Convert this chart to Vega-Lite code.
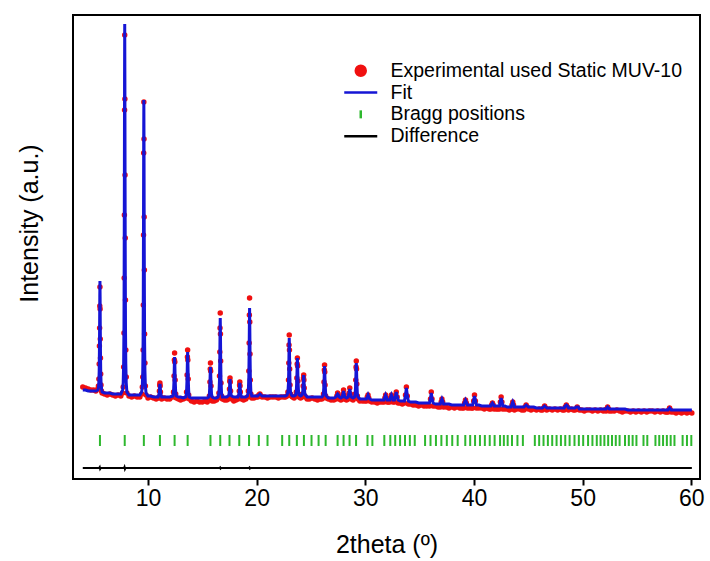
{
"$schema": "https://vega.github.io/schema/vega-lite/v6.json",
"width": 627, "height": 464,
"autosize": "none",
"padding": {"left": 73, "top": 15, "right": 10, "bottom": 82},
"background": "white",
"datasets": {
"pattern": [
{"t":4.0,"obs":92,"calc":89},{"t":4.25,"obs":91,"calc":89},{"t":4.5,"obs":90,"calc":88},{"t":4.75,"obs":89,"calc":88},{"t":5.0,"obs":89,"calc":88},{"t":5.2,"obs":88,"calc":88},
{"t":5.38,"obs":90,"calc":89},{"t":5.44,"obs":93,"calc":91},{"t":5.48,"obs":100,"calc":97},{"t":5.51,"obs":115,"calc":108},{"t":5.53,"obs":133,"calc":127},{"t":5.55,"obs":151,"calc":154},{"t":5.565,"obs":173,"calc":182},{"t":5.58,"obs":192,"calc":198},{"t":5.595,"obs":170,"calc":182},{"t":5.61,"obs":140,"calc":154},{"t":5.63,"obs":121,"calc":127},{"t":5.65,"obs":105,"calc":108},{"t":5.68,"obs":94,"calc":97},{"t":5.72,"obs":88,"calc":91},{"t":5.78,"obs":86,"calc":87},
{"t":6.0,"obs":85,"calc":86},{"t":6.25,"obs":84,"calc":86},{"t":6.5,"obs":85,"calc":86},{"t":6.75,"obs":84,"calc":85},{"t":7.0,"obs":83,"calc":85},{"t":7.25,"obs":84,"calc":85},{"t":7.5,"obs":83,"calc":85},
{"t":7.66,"obs":86,"calc":89},{"t":7.72,"obs":92,"calc":96},{"t":7.76,"obs":112,"calc":115},{"t":7.79,"obs":146,"calc":152},{"t":7.81,"obs":201,"calc":215},{"t":7.83,"obs":264,"calc":307},{"t":7.845,"obs":369,"calc":400},{"t":7.86,"obs":444,"calc":455},{"t":7.875,"obs":380,"calc":400},{"t":7.89,"obs":304,"calc":307},{"t":7.91,"obs":241,"calc":215},{"t":7.93,"obs":179,"calc":152},{"t":7.96,"obs":129,"calc":115},{"t":8.0,"obs":102,"calc":96},{"t":8.06,"obs":86,"calc":87},
{"t":8.25,"obs":83,"calc":84},{"t":8.5,"obs":82,"calc":84},{"t":8.75,"obs":83,"calc":84},{"t":9.0,"obs":82,"calc":84},{"t":9.25,"obs":82,"calc":84},
{"t":9.42,"obs":85,"calc":87},{"t":9.48,"obs":92,"calc":93},{"t":9.52,"obs":102,"calc":108},{"t":9.55,"obs":129,"calc":137},{"t":9.57,"obs":174,"calc":187},{"t":9.59,"obs":244,"calc":261},{"t":9.605,"obs":326,"calc":335},{"t":9.62,"obs":377,"calc":379},{"t":9.635,"obs":340,"calc":335},{"t":9.65,"obs":262,"calc":261},{"t":9.67,"obs":209,"calc":187},{"t":9.69,"obs":145,"calc":137},{"t":9.72,"obs":116,"calc":108},{"t":9.76,"obs":93,"calc":93},{"t":9.82,"obs":84,"calc":86},
{"t":10.0,"obs":81,"calc":83},{"t":10.25,"obs":82,"calc":83},{"t":10.5,"obs":81,"calc":82},{"t":10.75,"obs":80,"calc":82},
{"t":10.94,"obs":81,"calc":82},{"t":11.0,"obs":82,"calc":84},{"t":11.05,"obs":88,"calc":88},{"t":11.08,"obs":94,"calc":93},{"t":11.1,"obs":96,"calc":95},{"t":11.12,"obs":93,"calc":93},{"t":11.15,"obs":87,"calc":88},{"t":11.2,"obs":82,"calc":84},{"t":11.26,"obs":80,"calc":82},
{"t":11.5,"obs":81,"calc":82},{"t":11.75,"obs":80,"calc":82},{"t":12.0,"obs":80,"calc":82},
{"t":12.29,"obs":82,"calc":83},{"t":12.35,"obs":87,"calc":87},{"t":12.4,"obs":103,"calc":100},{"t":12.43,"obs":119,"calc":116},{"t":12.45,"obs":126,"calc":122},{"t":12.47,"obs":117,"calc":116},{"t":12.5,"obs":99,"calc":100},{"t":12.55,"obs":85,"calc":87},{"t":12.61,"obs":81,"calc":83},
{"t":12.8,"obs":80,"calc":82},{"t":13.0,"obs":79,"calc":82},{"t":13.25,"obs":80,"calc":81},
{"t":13.49,"obs":81,"calc":82},{"t":13.55,"obs":87,"calc":87},{"t":13.6,"obs":104,"calc":102},{"t":13.63,"obs":122,"calc":120},{"t":13.65,"obs":129,"calc":127},{"t":13.67,"obs":119,"calc":120},{"t":13.7,"obs":100,"calc":102},{"t":13.75,"obs":84,"calc":87},{"t":13.81,"obs":80,"calc":82},
{"t":14.0,"obs":78,"calc":81},{"t":14.25,"obs":77,"calc":81},{"t":14.5,"obs":78,"calc":81},{"t":14.75,"obs":77,"calc":81},{"t":15.0,"obs":77,"calc":81},{"t":15.25,"obs":78,"calc":81},{"t":15.45,"obs":77,"calc":81},
{"t":15.59,"obs":79,"calc":82},{"t":15.65,"obs":83,"calc":85},{"t":15.7,"obs":97,"calc":95},{"t":15.73,"obs":110,"calc":107},{"t":15.75,"obs":116,"calc":112},{"t":15.77,"obs":108,"calc":107},{"t":15.8,"obs":93,"calc":95},{"t":15.85,"obs":81,"calc":85},{"t":15.91,"obs":78,"calc":82},
{"t":16.1,"obs":78,"calc":81},{"t":16.3,"obs":79,"calc":81},
{"t":16.45,"obs":81,"calc":82},{"t":16.53,"obs":86,"calc":86},{"t":16.58,"obs":103,"calc":99},{"t":16.61,"obs":127,"calc":121},{"t":16.63,"obs":151,"calc":145},{"t":16.65,"obs":166,"calc":161},{"t":16.67,"obs":145,"calc":145},{"t":16.69,"obs":118,"calc":121},{"t":16.72,"obs":96,"calc":99},{"t":16.77,"obs":83,"calc":86},{"t":16.85,"obs":80,"calc":82},
{"t":17.05,"obs":79,"calc":82},{"t":17.25,"obs":79,"calc":82},
{"t":17.39,"obs":80,"calc":83},{"t":17.45,"obs":82,"calc":84},{"t":17.5,"obs":90,"calc":90},{"t":17.53,"obs":98,"calc":97},{"t":17.55,"obs":101,"calc":100},{"t":17.57,"obs":97,"calc":97},{"t":17.6,"obs":88,"calc":90},{"t":17.65,"obs":81,"calc":84},{"t":17.71,"obs":80,"calc":83},
{"t":17.9,"obs":78,"calc":82},{"t":18.1,"obs":79,"calc":82},
{"t":18.29,"obs":80,"calc":82},{"t":18.35,"obs":82,"calc":84},{"t":18.4,"obs":88,"calc":88},{"t":18.43,"obs":94,"calc":94},{"t":18.45,"obs":97,"calc":96},{"t":18.47,"obs":93,"calc":94},{"t":18.5,"obs":87,"calc":88},{"t":18.55,"obs":81,"calc":84},{"t":18.61,"obs":80,"calc":82},
{"t":18.8,"obs":79,"calc":82},{"t":19.0,"obs":80,"calc":82},
{"t":19.15,"obs":82,"calc":83},{"t":19.23,"obs":88,"calc":87},{"t":19.28,"obs":108,"calc":102},{"t":19.31,"obs":136,"calc":127},{"t":19.33,"obs":164,"calc":153},{"t":19.35,"obs":181,"calc":171},{"t":19.37,"obs":157,"calc":153},{"t":19.39,"obs":125,"calc":127},{"t":19.42,"obs":99,"calc":102},{"t":19.47,"obs":85,"calc":87},{"t":19.55,"obs":81,"calc":83},
{"t":19.75,"obs":81,"calc":83},{"t":19.95,"obs":82,"calc":83},{"t":20.1,"obs":82,"calc":83},{"t":20.2,"obs":84,"calc":84},{"t":20.3,"obs":85,"calc":85},{"t":20.4,"obs":83,"calc":84},{"t":20.5,"obs":82,"calc":83},{"t":20.75,"obs":82,"calc":83},{"t":21.0,"obs":81,"calc":83},{"t":21.25,"obs":82,"calc":83},{"t":21.5,"obs":82,"calc":83},{"t":21.75,"obs":82,"calc":83},{"t":22.0,"obs":81,"calc":83},{"t":22.25,"obs":82,"calc":83},{"t":22.5,"obs":82,"calc":83},{"t":22.65,"obs":82,"calc":83},
{"t":22.8,"obs":83,"calc":84},{"t":22.88,"obs":87,"calc":87},{"t":22.93,"obs":99,"calc":96},{"t":22.96,"obs":116,"calc":112},{"t":22.98,"obs":134,"calc":129},{"t":23.0,"obs":144,"calc":141},{"t":23.02,"obs":129,"calc":129},{"t":23.04,"obs":110,"calc":112},{"t":23.07,"obs":94,"calc":96},{"t":23.12,"obs":85,"calc":87},{"t":23.2,"obs":83,"calc":84},
{"t":23.3,"obs":82,"calc":83},{"t":23.45,"obs":81,"calc":83},
{"t":23.59,"obs":83,"calc":84},{"t":23.65,"obs":87,"calc":88},{"t":23.7,"obs":101,"calc":100},{"t":23.73,"obs":115,"calc":115},{"t":23.75,"obs":121,"calc":121},{"t":23.77,"obs":113,"calc":115},{"t":23.8,"obs":98,"calc":100},{"t":23.85,"obs":85,"calc":88},{"t":23.91,"obs":82,"calc":84},
{"t":24.04,"obs":81,"calc":83},
{"t":24.17,"obs":82,"calc":84},{"t":24.23,"obs":85,"calc":86},{"t":24.28,"obs":93,"calc":93},{"t":24.31,"obs":101,"calc":101},{"t":24.33,"obs":104,"calc":104},{"t":24.35,"obs":99,"calc":101},{"t":24.38,"obs":91,"calc":93},{"t":24.43,"obs":83,"calc":86},{"t":24.49,"obs":82,"calc":84},
{"t":24.65,"obs":80,"calc":82},{"t":24.85,"obs":80,"calc":82},{"t":25.1,"obs":81,"calc":82},{"t":25.35,"obs":80,"calc":82},{"t":25.6,"obs":79,"calc":82},{"t":25.85,"obs":80,"calc":82},{"t":26.0,"obs":80,"calc":82},
{"t":26.09,"obs":81,"calc":83},{"t":26.15,"obs":85,"calc":86},{"t":26.2,"obs":97,"calc":96},{"t":26.23,"obs":109,"calc":108},{"t":26.25,"obs":114,"calc":113},{"t":26.27,"obs":107,"calc":108},{"t":26.3,"obs":94,"calc":96},{"t":26.35,"obs":83,"calc":86},{"t":26.41,"obs":81,"calc":83},
{"t":26.6,"obs":80,"calc":81},{"t":26.85,"obs":79,"calc":81},{"t":27.1,"obs":79,"calc":81},
{"t":27.3,"obs":80,"calc":82},{"t":27.38,"obs":83,"calc":84},{"t":27.45,"obs":86,"calc":85},{"t":27.52,"obs":83,"calc":84},{"t":27.6,"obs":80,"calc":82},{"t":27.75,"obs":79,"calc":81},
{"t":27.88,"obs":80,"calc":82},{"t":27.94,"obs":85,"calc":85},{"t":28.0,"obs":89,"calc":88},{"t":28.06,"obs":84,"calc":85},{"t":28.12,"obs":80,"calc":82},{"t":28.27,"obs":79,"calc":81},
{"t":28.42,"obs":80,"calc":82},{"t":28.5,"obs":86,"calc":86},{"t":28.57,"obs":91,"calc":90},{"t":28.64,"obs":85,"calc":86},{"t":28.72,"obs":80,"calc":82},{"t":28.87,"obs":79,"calc":81},
{"t":29.01,"obs":81,"calc":82},{"t":29.07,"obs":85,"calc":85},{"t":29.12,"obs":99,"calc":97},{"t":29.15,"obs":112,"calc":111},{"t":29.17,"obs":118,"calc":116},{"t":29.19,"obs":110,"calc":111},{"t":29.22,"obs":95,"calc":97},{"t":29.27,"obs":83,"calc":85},{"t":29.33,"obs":80,"calc":82},
{"t":29.5,"obs":78,"calc":80},{"t":29.75,"obs":78,"calc":80},{"t":29.95,"obs":78,"calc":80},
{"t":30.1,"obs":78,"calc":80},{"t":30.18,"obs":82,"calc":82},{"t":30.25,"obs":84,"calc":84},{"t":30.32,"obs":81,"calc":82},{"t":30.4,"obs":78,"calc":80},
{"t":30.6,"obs":77,"calc":79},{"t":30.85,"obs":77,"calc":79},{"t":31.1,"obs":76,"calc":79},{"t":31.35,"obs":77,"calc":79},{"t":31.55,"obs":77,"calc":79},
{"t":31.72,"obs":77,"calc":79},{"t":31.8,"obs":81,"calc":82},{"t":31.87,"obs":84,"calc":84},{"t":31.94,"obs":81,"calc":82},{"t":32.02,"obs":77,"calc":79},{"t":32.12,"obs":77,"calc":79},
{"t":32.25,"obs":77,"calc":79},{"t":32.33,"obs":81,"calc":82},{"t":32.4,"obs":84,"calc":84},{"t":32.47,"obs":81,"calc":82},{"t":32.55,"obs":77,"calc":79},
{"t":32.68,"obs":77,"calc":79},{"t":32.77,"obs":83,"calc":83},{"t":32.85,"obs":87,"calc":87},{"t":32.93,"obs":82,"calc":83},{"t":33.02,"obs":76,"calc":79},
{"t":33.2,"obs":76,"calc":78},{"t":33.4,"obs":75,"calc":78},
{"t":33.6,"obs":76,"calc":78},{"t":33.7,"obs":84,"calc":84},{"t":33.78,"obs":92,"calc":91},{"t":33.86,"obs":83,"calc":84},{"t":33.96,"obs":75,"calc":78},
{"t":34.15,"obs":75,"calc":77},{"t":34.4,"obs":74,"calc":77},{"t":34.65,"obs":74,"calc":77},{"t":34.9,"obs":73,"calc":76},{"t":35.15,"obs":74,"calc":76},{"t":35.4,"obs":73,"calc":76},{"t":35.65,"obs":73,"calc":76},
{"t":35.9,"obs":73,"calc":76},{"t":36.0,"obs":80,"calc":81},{"t":36.07,"obs":87,"calc":86},{"t":36.14,"obs":80,"calc":81},{"t":36.24,"obs":73,"calc":76},
{"t":36.45,"obs":73,"calc":75},{"t":36.7,"obs":72,"calc":75},
{"t":36.9,"obs":72,"calc":75},{"t":36.98,"obs":77,"calc":78},{"t":37.05,"obs":80,"calc":80},{"t":37.12,"obs":77,"calc":78},{"t":37.2,"obs":72,"calc":75},
{"t":37.45,"obs":72,"calc":75},{"t":37.7,"obs":71,"calc":75},{"t":37.95,"obs":72,"calc":74},{"t":38.2,"obs":71,"calc":74},{"t":38.45,"obs":72,"calc":74},{"t":38.7,"obs":71,"calc":74},{"t":38.9,"obs":71,"calc":74},
{"t":39.05,"obs":71,"calc":74},{"t":39.14,"obs":76,"calc":77},{"t":39.22,"obs":79,"calc":79},{"t":39.3,"obs":76,"calc":77},{"t":39.4,"obs":71,"calc":74},
{"t":39.6,"obs":71,"calc":74},{"t":39.8,"obs":71,"calc":74},
{"t":39.88,"obs":71,"calc":74},{"t":39.97,"obs":78,"calc":79},{"t":40.05,"obs":84,"calc":83},{"t":40.13,"obs":78,"calc":79},{"t":40.23,"obs":71,"calc":74},
{"t":40.45,"obs":71,"calc":74},{"t":40.7,"obs":71,"calc":73},{"t":40.95,"obs":70,"calc":73},{"t":41.2,"obs":71,"calc":73},{"t":41.4,"obs":70,"calc":73},
{"t":41.55,"obs":70,"calc":73},{"t":41.63,"obs":74,"calc":75},{"t":41.7,"obs":76,"calc":76},{"t":41.77,"obs":74,"calc":75},{"t":41.85,"obs":70,"calc":73},
{"t":42.05,"obs":70,"calc":73},{"t":42.2,"obs":70,"calc":73},
{"t":42.35,"obs":70,"calc":73},{"t":42.43,"obs":77,"calc":78},{"t":42.5,"obs":82,"calc":81},{"t":42.57,"obs":77,"calc":78},{"t":42.65,"obs":70,"calc":73},
{"t":42.85,"obs":70,"calc":73},{"t":43.05,"obs":70,"calc":72},{"t":43.25,"obs":69,"calc":72},
{"t":43.42,"obs":70,"calc":72},{"t":43.5,"obs":74,"calc":75},{"t":43.57,"obs":77,"calc":77},{"t":43.64,"obs":74,"calc":75},{"t":43.72,"obs":69,"calc":72},
{"t":43.95,"obs":70,"calc":72},{"t":44.2,"obs":70,"calc":72},{"t":44.4,"obs":69,"calc":72},
{"t":44.6,"obs":69,"calc":72},{"t":44.7,"obs":72,"calc":73},{"t":44.8,"obs":74,"calc":74},{"t":44.9,"obs":72,"calc":73},{"t":45.0,"obs":70,"calc":72},
{"t":45.25,"obs":69,"calc":72},{"t":45.5,"obs":70,"calc":72},{"t":45.75,"obs":69,"calc":71},{"t":46.0,"obs":70,"calc":71},{"t":46.15,"obs":69,"calc":71},
{"t":46.3,"obs":69,"calc":71},{"t":46.4,"obs":71,"calc":72},{"t":46.5,"obs":73,"calc":73},{"t":46.6,"obs":71,"calc":72},{"t":46.7,"obs":69,"calc":71},
{"t":46.95,"obs":70,"calc":71},{"t":47.2,"obs":69,"calc":71},{"t":47.45,"obs":70,"calc":71},{"t":47.7,"obs":69,"calc":71},{"t":47.95,"obs":70,"calc":71},{"t":48.15,"obs":69,"calc":71},
{"t":48.3,"obs":69,"calc":71},{"t":48.4,"obs":72,"calc":73},{"t":48.5,"obs":74,"calc":74},{"t":48.6,"obs":72,"calc":73},{"t":48.7,"obs":69,"calc":71},
{"t":48.95,"obs":70,"calc":71},{"t":49.15,"obs":69,"calc":71},
{"t":49.3,"obs":69,"calc":71},{"t":49.4,"obs":70,"calc":72},{"t":49.5,"obs":72,"calc":72},{"t":49.6,"obs":70,"calc":72},{"t":49.7,"obs":69,"calc":70},
{"t":49.9,"obs":69,"calc":70},{"t":50.15,"obs":68,"calc":70},{"t":50.4,"obs":69,"calc":70},{"t":50.65,"obs":69,"calc":70},{"t":50.9,"obs":68,"calc":70},{"t":51.15,"obs":69,"calc":70},{"t":51.4,"obs":68,"calc":70},{"t":51.65,"obs":69,"calc":70},{"t":51.9,"obs":68,"calc":70},{"t":52.05,"obs":69,"calc":70},
{"t":52.15,"obs":68,"calc":70},{"t":52.22,"obs":70,"calc":71},{"t":52.3,"obs":72,"calc":72},{"t":52.38,"obs":70,"calc":71},{"t":52.45,"obs":68,"calc":70},
{"t":52.65,"obs":68,"calc":70},{"t":52.9,"obs":68,"calc":70},{"t":53.15,"obs":69,"calc":70},{"t":53.4,"obs":68,"calc":70},{"t":53.65,"obs":67,"calc":70},{"t":53.9,"obs":68,"calc":70},{"t":54.15,"obs":68,"calc":69},{"t":54.4,"obs":67,"calc":69},{"t":54.65,"obs":68,"calc":69},{"t":54.9,"obs":67,"calc":69},{"t":55.15,"obs":68,"calc":69},{"t":55.4,"obs":67,"calc":69},{"t":55.65,"obs":68,"calc":69},{"t":55.9,"obs":67,"calc":69},{"t":56.15,"obs":68,"calc":69},{"t":56.4,"obs":68,"calc":69},{"t":56.65,"obs":67,"calc":69},{"t":56.9,"obs":68,"calc":69},{"t":57.15,"obs":67,"calc":69},{"t":57.4,"obs":68,"calc":69},{"t":57.6,"obs":67,"calc":69},{"t":57.75,"obs":67,"calc":69},
{"t":57.85,"obs":67,"calc":69},{"t":57.92,"obs":69,"calc":70},{"t":58.0,"obs":71,"calc":71},{"t":58.08,"obs":69,"calc":70},{"t":58.15,"obs":67,"calc":69},
{"t":58.35,"obs":67,"calc":69},{"t":58.6,"obs":66,"calc":69},{"t":58.85,"obs":67,"calc":69},{"t":59.1,"obs":66,"calc":69},{"t":59.35,"obs":67,"calc":69},{"t":59.6,"obs":66,"calc":69},{"t":59.85,"obs":67,"calc":69},{"t":60.05,"obs":66,"calc":69}
],
"bragg": [
{"t":5.58},{"t":7.86},{"t":9.62},{"t":11.1},{"t":12.45},{"t":13.65},
{"t":15.75},{"t":16.65},{"t":17.5},{"t":18.4},{"t":19.3},{"t":20.2},{"t":21.0},
{"t":22.35},{"t":23.0},{"t":23.7},{"t":24.35},{"t":25.05},{"t":25.7},{"t":26.35},
{"t":27.45},{"t":28.0},{"t":28.55},{"t":29.15},
{"t":30.2},{"t":30.65},
{"t":31.75},{"t":32.3},{"t":32.75},{"t":33.2},{"t":33.65},{"t":34.1},{"t":34.55},
{"t":35.5},{"t":36.0},{"t":36.5},{"t":37.0},{"t":37.5},{"t":38.0},{"t":38.5},
{"t":39.2},{"t":39.65},{"t":40.1},{"t":40.55},{"t":41.0},{"t":41.45},{"t":41.9},
{"t":42.4},{"t":42.75},{"t":43.1},{"t":43.5},
{"t":44.0},{"t":44.5},
{"t":45.6},{"t":46.0},{"t":46.4},{"t":46.8},{"t":47.2},{"t":47.6},{"t":48.0},
{"t":48.4},{"t":48.8},{"t":49.25},{"t":49.65},{"t":50.05},{"t":50.5},{"t":50.9},
{"t":51.3},{"t":51.65},{"t":52.0},{"t":52.35},{"t":52.7},{"t":53.05},{"t":53.4},
{"t":53.9},{"t":54.25},{"t":54.6},{"t":54.95},
{"t":55.6},{"t":55.95},
{"t":56.7},{"t":57.05},{"t":57.4},{"t":57.75},{"t":58.1},{"t":58.45},
{"t":59.2},{"t":59.6},{"t":60.0}
],
"difference": [
{"t":4.0,"diff":11},{"t":5.5,"diff":11},{"t":5.56,"diff":12},{"t":5.6,"diff":10},{"t":5.66,"diff":11},
{"t":7.8,"diff":11},{"t":7.84,"diff":12},{"t":7.88,"diff":10},{"t":7.92,"diff":11},
{"t":16.6,"diff":11},{"t":16.64,"diff":11.5},{"t":16.68,"diff":10.5},{"t":16.72,"diff":11},
{"t":19.3,"diff":11},{"t":19.34,"diff":11.5},{"t":19.38,"diff":10.5},{"t":19.42,"diff":11},
{"t":60.05,"diff":11}
]
},
"encoding": {
"x": {"field": "t", "type": "quantitative", "title": "2theta (º)",
 "scale": {"domain": [3.1, 60.8], "nice": false, "zero": false},
 "axis": {"values": [10, 20, 30, 40, 50, 60], "format": "d"}}
},
"layer": [
{
"data": {"name": "bragg"},
"mark": {"type": "rule", "strokeWidth": 2},
"encoding": {
 "y": {"datum": 33, "type": "quantitative", "scale": {"domain": [0, 464], "nice": false, "zero": true}, "title": "Intensity (a.u.)"},
 "y2": {"datum": 44},
 "color": {"datum": "Bragg positions", "type": "nominal"}
}
},
{
"data": {"name": "difference"},
"mark": {"type": "line", "strokeWidth": 2},
"encoding": {
 "y": {"field": "diff", "type": "quantitative", "title": "Intensity (a.u.)"},
 "color": {"datum": "Difference", "type": "nominal"}
}
},
{
"data": {"name": "pattern"},
"mark": {"type": "point", "filled": true, "size": 30, "opacity": 1},
"encoding": {
 "y": {"field": "obs", "type": "quantitative", "title": "Intensity (a.u.)"},
 "color": {"datum": "Experimental used Static MUV-10", "type": "nominal",
  "scale": {"domain": ["Experimental used Static MUV-10", "Fit", "Bragg positions", "Difference"], "range": ["#f01010", "#1515d5", "#2eb82e", "#000000"]},
  "legend": {"title": null, "orient": "none", "legendX": 278, "legendY": 46,
   "labelFontSize": 19.5, "labelFont": "Liberation Sans", "labelColor": "black", "labelOffset": 20, "labelLimit": 500, "rowPadding": 0.8, "symbolSize": 100, "symbolStrokeWidth": 2.5,
   "encode": {"symbols": {"update": {"stroke": {"scale": "color", "field": "value"}, "strokeWidth": {"value": 2.5}, "opacity": {"value": 1}}}}}},
 "shape": {"datum": "Experimental used Static MUV-10", "type": "nominal",
  "scale": {"domain": ["Experimental used Static MUV-10", "Fit", "Bragg positions", "Difference"], "range": ["circle", "M-3.3,0H3.3", "M0,-0.8V0.8", "M-3.3,0H3.3"]},
  "legend": {"title": null, "orient": "none", "legendX": 278, "legendY": 46,
   "labelFontSize": 19.5, "labelFont": "Liberation Sans", "labelColor": "black", "labelOffset": 20, "labelLimit": 500, "rowPadding": 0.8, "symbolSize": 100, "symbolStrokeWidth": 2.5,
   "encode": {"symbols": {"update": {"stroke": {"scale": "color", "field": "value"}, "strokeWidth": {"value": 2.5}, "opacity": {"value": 1}}}}}}
}
},
{
"data": {"name": "pattern"},
"mark": {"type": "line", "strokeWidth": 3},
"encoding": {
 "y": {"field": "calc", "type": "quantitative", "title": "Intensity (a.u.)"},
 "color": {"datum": "Fit", "type": "nominal"}
}
}
],
"config": {
 "font": "Liberation Sans",
 "view": {"stroke": "black", "strokeWidth": 2},
 "axis": {"grid": false, "domain": false, "labelFont": "Liberation Sans", "titleFont": "Liberation Sans", "titleFontWeight": "normal", "labelColor": "black", "titleColor": "black"},
 "axisX": {"tickSize": 6, "tickWidth": 2, "tickColor": "black", "labelFontSize": 23, "labelPadding": 2, "titleFontSize": 25, "titlePadding": 22},
 "axisY": {"labels": false, "ticks": false, "titleFontSize": 25, "titlePadding": 31, "titleY": 208}
}
}
